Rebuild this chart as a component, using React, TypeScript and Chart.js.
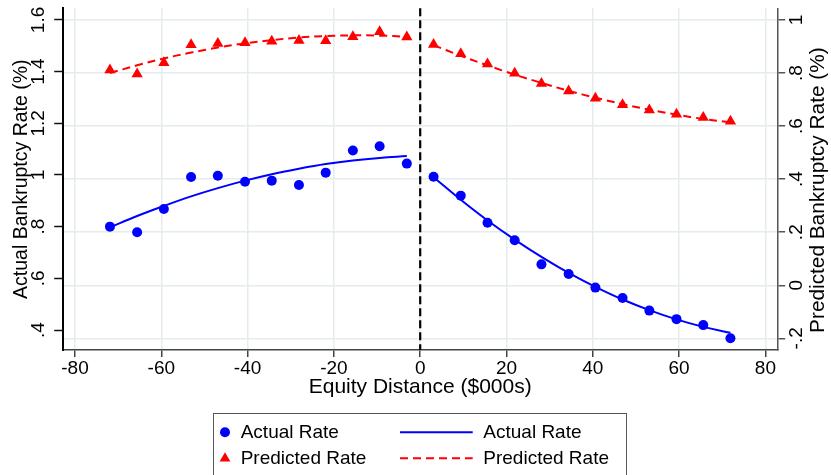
import React, { useEffect, useRef } from "react";
import { Chart, registerables } from "chart.js";

Chart.register(...registerables);

// ---- data ----
const leftX = [-71.9, -65.6, -59.4, -53.1, -46.9, -40.6, -34.4, -28.1, -21.9, -15.6, -9.4, -3.1];
const rightX = [3.1, 9.4, 15.6, 21.9, 28.1, 34.4, 40.6, 46.9, 53.1, 59.4, 65.6, 71.9];

const actualLeft = [0.8, 0.778, 0.868, 0.992, 0.997, 0.974, 0.978, 0.961, 1.009, 1.095, 1.111, 1.044];
const actualRight = [0.993, 0.92, 0.815, 0.747, 0.654, 0.617, 0.564, 0.524, 0.475, 0.442, 0.419, 0.368];
const actualFitLeft = [0.797, 0.841, 0.88, 0.917, 0.949, 0.978, 1.003, 1.024, 1.042, 1.056, 1.066, 1.073];
const actualFitRight = [0.991, 0.904, 0.824, 0.75, 0.683, 0.621, 0.567, 0.518, 0.477, 0.441, 0.412, 0.389];

const predLeft = [0.811, 0.796, 0.839, 0.907, 0.911, 0.914, 0.92, 0.923, 0.922, 0.937, 0.956, 0.936];
const predRight = [0.908, 0.873, 0.834, 0.799, 0.761, 0.732, 0.705, 0.68, 0.661, 0.645, 0.632, 0.618];
const predFitLeft = [0.8, 0.829, 0.855, 0.877, 0.896, 0.912, 0.924, 0.934, 0.939, 0.942, 0.941, 0.937];
const predFitRight = [0.905, 0.865, 0.829, 0.794, 0.763, 0.733, 0.707, 0.683, 0.662, 0.643, 0.627, 0.614];

const cutoffX = 0;

const xTicks = [-80, -60, -40, -20, 0, 20, 40, 60, 80];
const xRange = [-82.85, 82.85];
const leftTicks = [0.4, 0.6, 0.8, 1, 1.2, 1.4, 1.6];
const leftTickLabels = [".4", ".6", ".8", "1", "1.2", "1.4", "1.6"];
const leftRange = [0.3226, 1.645];
const rightTicks = [-0.2, 0, 0.2, 0.4, 0.6, 0.8, 1];
const rightTickLabels = ["-.2", "0", ".2", ".4", ".6", ".8", "1"];
const rightRange = [-0.244, 1.044];

const xTitle = "Equity Distance ($000s)";
const leftTitle = "Actual Bankruptcy Rate (%)";
const rightTitle = "Predicted Bankruptcy Rate (%)";
const legendScatterActual = "Actual Rate";
const legendScatterPred = "Predicted Rate";
const legendLineActual = "Actual Rate";
const legendLinePred = "Predicted Rate";

const BLUE = "#0000ff";
const RED = "#ff0000";
const GRID = "#e4eced";
const FONT = '"Liberation Sans", Arial, Helvetica, sans-serif';

const pts = (xs: number[], ys: number[]) => xs.map((x, i) => ({ x, y: ys[i] }));

export default function App() {
  const ref = useRef<HTMLCanvasElement | null>(null);

  useEffect(() => {
    if (!ref.current) return;

    const zeroLine = {
      id: "zeroLine",
      beforeDatasetsDraw(chart: any) {
        const { ctx, chartArea, scales } = chart;
        const px = scales.x.getPixelForValue(cutoffX);
        ctx.save();
        ctx.strokeStyle = "#000";
        ctx.lineWidth = 2.2;
        ctx.setLineDash([8, 4]);
        ctx.beginPath();
        ctx.moveTo(px, chartArea.top);
        ctx.lineTo(px, chartArea.bottom);
        ctx.stroke();
        ctx.restore();
      },
    };

    const rightTitlePlugin = {
      id: "rightTitle",
      afterDraw(chart: any) {
        const { ctx, chartArea } = chart;
        ctx.save();
        ctx.translate(chartArea.right + 41, (chartArea.top + chartArea.bottom) / 2 + 11);
        ctx.rotate(-Math.PI / 2);
        ctx.font = `20.8px ${FONT}`;
        ctx.fillStyle = "#000";
        ctx.textAlign = "center";
        ctx.textBaseline = "middle";
        ctx.fillText(rightTitle, 0, 0);
        ctx.restore();
      },
    };

    const chart = new Chart(ref.current, {
      type: "scatter",
      data: {
        datasets: [
          {
            type: "line",
            label: legendLineActual,
            data: pts(leftX, actualFitLeft),
            yAxisID: "y",
            borderColor: BLUE,
            borderWidth: 2,
            pointRadius: 0,
            tension: 0.4,
            fill: false,
          },
          {
            type: "line",
            label: legendLineActual,
            data: pts(rightX, actualFitRight),
            yAxisID: "y",
            borderColor: BLUE,
            borderWidth: 2,
            pointRadius: 0,
            tension: 0.4,
            fill: false,
          },
          {
            type: "line",
            label: legendLinePred,
            data: pts(leftX, predFitLeft),
            yAxisID: "y2",
            borderColor: RED,
            borderWidth: 2,
            borderDash: [8, 5],
            pointRadius: 0,
            tension: 0.4,
            fill: false,
          },
          {
            type: "line",
            label: legendLinePred,
            data: pts(rightX, predFitRight),
            yAxisID: "y2",
            borderColor: RED,
            borderWidth: 2,
            borderDash: [8, 5],
            pointRadius: 0,
            tension: 0.4,
            fill: false,
          },
          {
            label: legendScatterActual,
            data: pts(leftX.concat(rightX), actualLeft.concat(actualRight)),
            yAxisID: "y",
            pointStyle: "circle",
            pointRadius: 5,
            backgroundColor: BLUE,
            borderColor: BLUE,
            borderWidth: 0,
          },
          {
            label: legendScatterPred,
            data: pts(leftX.concat(rightX), predLeft.concat(predRight)),
            yAxisID: "y2",
            pointStyle: "triangle",
            pointRadius: 6.5,
            backgroundColor: RED,
            borderColor: RED,
            borderWidth: 0,
          },
        ],
      },
      options: {
        responsive: false,
        animation: false,
        events: [],
        layout: { padding: { top: 8.3, left: 0, right: 0, bottom: 0 } },
        plugins: { legend: { display: false }, tooltip: { enabled: false } },
        scales: {
          x: {
            type: "linear",
            position: "bottom",
            min: xRange[0],
            max: xRange[1],
            afterBuildTicks: (s: any) => {
              s.ticks = xTicks.map((v) => ({ value: v }));
            },
            afterFit: (s: any) => {
              s.height = 125;
              s.paddingLeft = 0;
              s.paddingRight = 0;
            },
            grid: {
              color: GRID,
              lineWidth: 1.5,
              tickColor: "#444",
              tickLength: 7,
              tickWidth: 1.5,
            },
            border: { color: "#444", width: 1.5 },
            ticks: {
              padding: 0,
              color: "#000",
              font: { family: FONT, size: 19 },
              maxRotation: 0,
              minRotation: 0,
              callback: (v: any) => String(v),
            },
            title: {
              display: true,
              text: xTitle,
              color: "#000",
              font: { family: FONT, size: 21 },
              padding: { top: 0, bottom: 75 },
            },
          },
          y: {
            type: "linear",
            position: "left",
            min: leftRange[0],
            max: leftRange[1],
            afterBuildTicks: (s: any) => {
              s.ticks = leftTicks.map((v) => ({ value: v }));
            },
            afterFit: (s: any) => {
              s.width = 62.7;
              s.paddingTop = 0;
              s.paddingBottom = 0;
            },
            grid: {
              drawOnChartArea: false,
              tickColor: "#111",
              tickLength: 8.5,
              tickWidth: 1.5,
            },
            border: { color: "#000", width: 2 },
            ticks: {
              padding: 2.5,
              color: "#000",
              crossAlign: "center",
              minRotation: 90,
              maxRotation: 90,
              font: { family: FONT, size: 19 },
              callback: (_v: any, i: number) => leftTickLabels[i],
            },
            title: {
              display: true,
              text: leftTitle,
              color: "#000",
              font: { family: FONT, size: 19.5 },
              padding: { top: 9.8, bottom: 0 },
            },
          },
          y2: {
            type: "linear",
            position: "right",
            min: rightRange[0],
            max: rightRange[1],
            afterBuildTicks: (s: any) => {
              s.ticks = rightTicks.map((v) => ({ value: v }));
            },
            afterFit: (s: any) => {
              s.width = 53.3;
              s.paddingTop = 0;
              s.paddingBottom = 0;
            },
            grid: {
              drawOnChartArea: true,
              color: GRID,
              lineWidth: 1.5,
              tickColor: "#555",
              tickLength: 7.5,
              tickWidth: 1.5,
            },
            border: { color: "#555", width: 1.5 },
            ticks: {
              padding: 0.7,
              color: "#000",
              crossAlign: "center",
              minRotation: 90,
              maxRotation: 90,
              font: { family: FONT, size: 19 },
              callback: (_v: any, i: number) => rightTickLabels[i],
            },
          },
        },
      },
      plugins: [zeroLine, rightTitlePlugin],
    } as any);

    return () => chart.destroy();
  }, []);

  const textStyle = (left: number, cy: number): React.CSSProperties => ({
    position: "absolute",
    left,
    top: cy - 12,
    height: 24,
    lineHeight: "24px",
    fontFamily: FONT,
    fontSize: 19,
    color: "#000",
    whiteSpace: "nowrap",
  });

  const row1 = 432.3;
  const row2 = 458.3;

  return (
    <div
      style={{
        position: "absolute",
        left: 0,
        top: 0,
        width: 831,
        height: 475,
        overflow: "hidden",
        background: "#fff",
      }}
    >
      <canvas ref={ref} width={831} height={475} style={{ position: "absolute", left: 0, top: 0, width: 831, height: 475 }} />
      <div
        style={{
          position: "absolute",
          left: 213,
          top: 412.5,
          width: 414,
          height: 90,
          border: "1.5px solid #555",
          boxSizing: "border-box",
        }}
      />
      <svg style={{ position: "absolute", left: 0, top: 0 }} width={831} height={475}>
        <circle cx={225} cy={row1} r={5} fill={BLUE} />
        <polygon points={`${225},${row2 - 6} ${225 + 5.4},${row2 + 3.2} ${225 - 5.4},${row2 + 3.2}`} fill={RED} />
        <line x1={400} y1={row1} x2={472.7} y2={row1} stroke={BLUE} strokeWidth={2} />
        <line x1={400} y1={row2} x2={472.7} y2={row2} stroke={RED} strokeWidth={2} strokeDasharray="8 5" />
      </svg>
      <div style={textStyle(240.7, row1)}>{legendScatterActual}</div>
      <div style={textStyle(240.7, row2)}>{legendScatterPred}</div>
      <div style={textStyle(483.3, row1)}>{legendLineActual}</div>
      <div style={textStyle(483.3, row2)}>{legendLinePred}</div>
    </div>
  );
}
